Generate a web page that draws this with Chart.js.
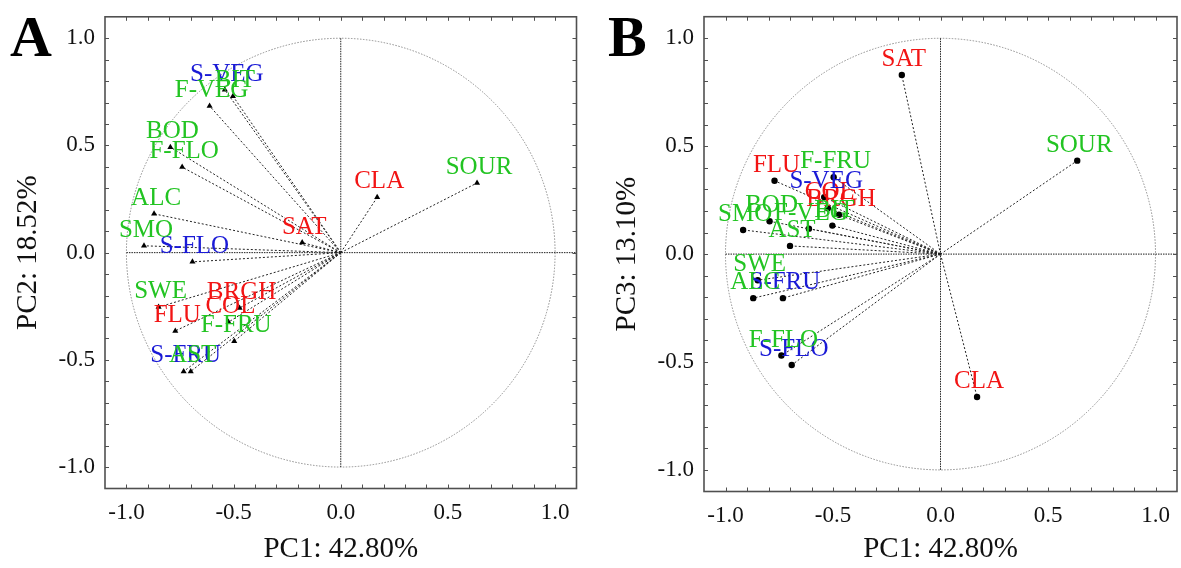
<!DOCTYPE html>
<html>
<head>
<meta charset="utf-8">
<title>PCA loadings</title>
<script src="https://cdn.jsdelivr.net/npm/chart.js@4.4.1/dist/chart.umd.min.js"></script>
<style>
  html, body { margin: 0; padding: 0; background: #fff; }
  body { position: relative; width: 1181px; height: 568px; overflow: hidden; font-family: "Liberation Serif", "DejaVu Serif", serif; }
  canvas { position: absolute; top: 0; }
  #pcaA { left: 0; }
  #pcaB { left: 590px; }
  .tag { position: absolute; top: 8px; font-size: 58px; line-height: 1; font-weight: bold; color: #000; }
</style>
</head>
<body>
<div class="tag" style="left:10px">A</div>
<div class="tag" style="left:608px">B</div>
<canvas id="pcaA" width="590" height="568"></canvas>
<canvas id="pcaB" width="591" height="568"></canvas>

<script>
// sensory attributes, grouped by colour (red = appearance/taste, blue = smell, green = flavour/mouthfeel)
const attributes = ['SAT', 'CLA', 'FLU', 'BRGH', 'COL',
                    'S-VEG', 'S-FLO', 'S-FRU',
                    'SOUR', 'SMO', 'BOD', 'SWE', 'ALC', 'AST', 'F-FLO', 'F-FRU', 'F-VEG', 'BIT'];
const groups = ['red', 'red', 'red', 'red', 'red',
                'blue', 'blue', 'blue',
                'green', 'green', 'green', 'green', 'green', 'green', 'green', 'green', 'green', 'green'];

// loadings on the first three components
const pc1 = [-0.180, 0.170, -0.772, -0.472, -0.524,
             -0.541, -0.692, -0.733,
              0.636, -0.918, -0.795, -0.850, -0.871, -0.700, -0.740, -0.497, -0.612, -0.503];
const pc2 = [ 0.047, 0.258, -0.365, -0.258, -0.324,
              0.760, -0.043, -0.554,
              0.325, 0.032, 0.492, -0.254, 0.181, -0.554, 0.399, -0.413, 0.684, 0.730];
const pc3 = [ 0.830, -0.662, 0.340, 0.182, 0.213,
              0.264, -0.514, -0.204,
              0.433, 0.112, 0.152, -0.121, -0.204, 0.038, -0.470, 0.356, 0.118, 0.132];

const axisTicks = [-1.0, -0.5, 0.0, 0.5, 1.0];
const frameTicks = [-1.0, -0.9, -0.8, -0.7, -0.6, -0.5, -0.4, -0.3, -0.2, -0.1, 0.0,
                    0.1, 0.2, 0.3, 0.4, 0.5, 0.6, 0.7, 0.8, 0.9, 1.0];

const SERIF = '"Liberation Serif", "Times New Roman", serif';
const groupColors = { red: '#f21414', blue: '#1a1ad6', green: '#22c422' };

// circle of correlations, zero lines, boxed frame with inward ticks
const loadingFrame = {
  id: 'loadingFrame',
  beforeDatasetsDraw(chart) {
    const { ctx, chartArea: a, scales: { x, y } } = chart;
    const cx = x.getPixelForValue(0), cy = y.getPixelForValue(0);
    const rx = x.getPixelForValue(1) - cx, ry = cy - y.getPixelForValue(1);
    ctx.save();
    ctx.lineWidth = 1;
    ctx.setLineDash([1.5, 1.5]);
    ctx.strokeStyle = '#8c8c8c';
    ctx.beginPath();
    ctx.ellipse(cx, cy, rx, ry, 0, 0, Math.PI * 2);
    ctx.stroke();
    ctx.strokeStyle = '#1e1e1e';
    ctx.setLineDash([1.5, 1]);
    ctx.beginPath();
    ctx.moveTo(x.getPixelForValue(-1), cy);
    ctx.lineTo(a.right, cy);
    ctx.moveTo(cx, y.getPixelForValue(1));
    ctx.lineTo(cx, y.getPixelForValue(-1));
    ctx.stroke();
    ctx.restore();
  },
  afterDraw(chart) {
    const { ctx, chartArea: a, scales: { x, y } } = chart;
    const len = 4;
    ctx.save();
    ctx.strokeStyle = '#505050';
    ctx.lineWidth = 1;
    ctx.beginPath();
    frameTicks.forEach(v => {
      const px = Math.round(x.getPixelForValue(v)) + 0.5;
      const py = Math.round(y.getPixelForValue(v)) + 0.5;
      ctx.moveTo(px, a.bottom); ctx.lineTo(px, a.bottom - len);
      ctx.moveTo(px, a.top); ctx.lineTo(px, a.top + len);
      ctx.moveTo(a.left, py); ctx.lineTo(a.left + len, py);
      ctx.moveTo(a.right, py); ctx.lineTo(a.right - len, py);
    });
    ctx.stroke();
    ctx.lineWidth = 1.6;
    ctx.strokeRect(a.left, a.top, a.right - a.left, a.bottom - a.top);
    ctx.restore();
  }
};

// attribute names written just above each arrow tip
const tipLabels = {
  id: 'tipLabels',
  afterDatasetsDraw(chart) {
    const ctx = chart.ctx;
    ctx.save();
    ctx.font = '25px ' + SERIF;
    ctx.textAlign = 'center';
    ctx.textBaseline = 'alphabetic';
    chart.data.datasets.forEach((ds, i) => {
      const tip = chart.getDatasetMeta(i).data[1];
      ctx.fillStyle = ds.tipColor;
      ctx.fillText(ds.label, tip.x + 2, tip.y - 9);
    });
    ctx.restore();
  }
};

function buildPanel(id, yValues, xTitle, yTitle, marker, geom) {
  const datasets = attributes.map((name, i) => ({
    label: name,
    tipColor: groupColors[groups[i]],
    data: [{ x: 0, y: 0 }, { x: pc1[i], y: yValues[i] }],
    showLine: true,
    borderColor: '#222',
    borderWidth: 1,
    borderDash: [2, 2],
    pointStyle: marker.style,
    pointRadius: [0, marker.radius],
    pointBackgroundColor: '#000',
    pointBorderColor: '#000',
    pointBorderWidth: 0
  }));

  const tickFont = { family: SERIF, size: 23 };
  const titleFont = { family: SERIF, size: 29 };

  new Chart(document.getElementById(id), {
    type: 'scatter',
    data: { datasets },
    options: {
      responsive: false,
      animation: false,
      events: [],
      layout: { padding: { left: 0, top: geom.top, right: geom.right, bottom: 0 } },
      plugins: { legend: { display: false }, tooltip: { enabled: false } },
      scales: {
        x: {
          type: 'linear', min: -1.1, max: 1.1,
          afterBuildTicks: s => { s.ticks = axisTicks.map(v => ({ value: v })); },
          afterFit: s => { s.height = geom.xHeight; s.paddingLeft = 0; s.paddingRight = 0; },
          grid: { display: false, drawTicks: false },
          border: { display: false },
          ticks: { autoSkip: false, maxRotation: 0, padding: 11, color: '#111', font: tickFont,
                   callback: v => v.toFixed(1) },
          title: { display: true, text: xTitle, color: '#111', font: titleFont, padding: { top: 0, bottom: 1 } }
        },
        y: {
          type: 'linear', min: -1.1, max: 1.1,
          afterBuildTicks: s => { s.ticks = axisTicks.map(v => ({ value: v })); },
          afterFit: s => { s.width = geom.yWidth; s.paddingTop = 0; s.paddingBottom = 0; },
          grid: { display: false, drawTicks: false },
          border: { display: false },
          ticks: { autoSkip: false, padding: 10, color: '#111', font: tickFont,
                   callback: v => v.toFixed(1) },
          title: { display: true, text: yTitle, color: '#111', font: titleFont, padding: { top: geom.yTitlePad, bottom: 0 } }
        }
      }
    },
    plugins: [loadingFrame, tipLabels]
  });
}

buildPanel('pcaA', pc2, 'PC1: 42.80%', 'PC2: 18.52%',
  { style: 'triangle', radius: 3.5 },
  { top: 16.8, right: 13.5, xHeight: 79.5, yWidth: 105, yTitlePad: 10.5 });

buildPanel('pcaB', pc3, 'PC1: 42.80%', 'PC3: 13.10%',
  { style: 'circle', radius: 3.2 },
  { top: 16.7, right: 1.5, xHeight: 76.5, yWidth: 114, yTitlePad: 19.5 });
</script>
</body>
</html>
